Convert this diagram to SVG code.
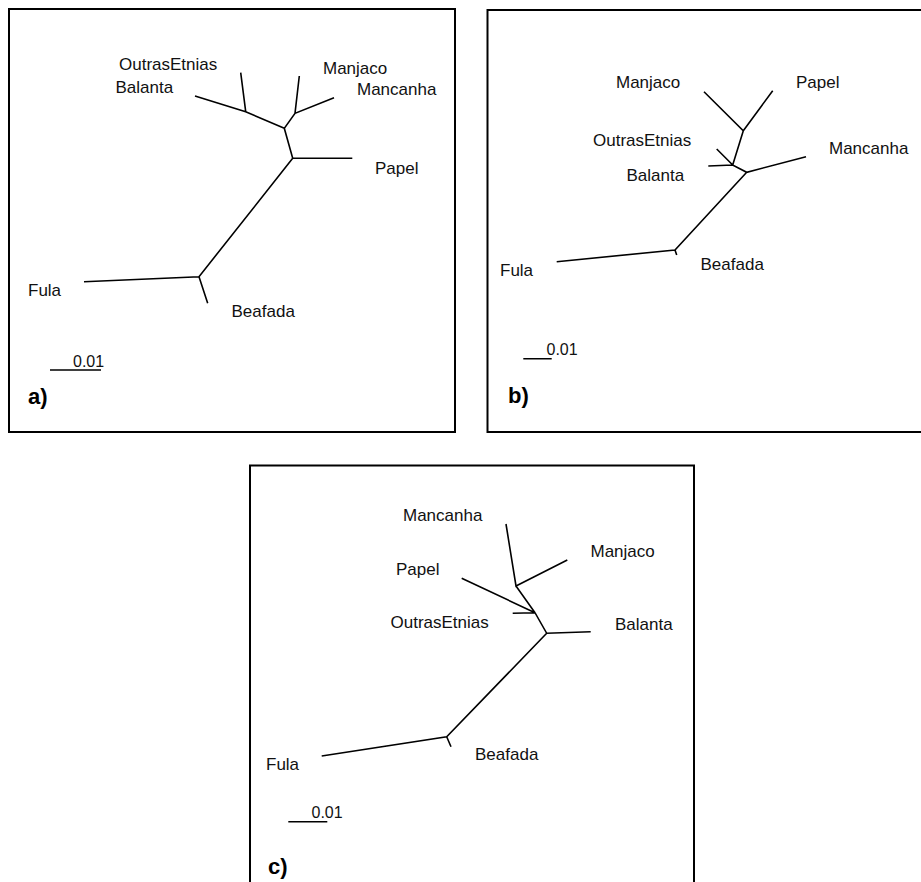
<svg xmlns="http://www.w3.org/2000/svg" width="921" height="882" viewBox="0 0 921 882">
<style>
.frame{fill:none;stroke:#000;stroke-width:2}
.br{fill:none;stroke:#000;stroke-width:1.6;stroke-linecap:butt;stroke-linejoin:miter}
.lb{font-family:"Liberation Sans",Arial,sans-serif;font-size:17px;fill:#111}
.sc{font-family:"Liberation Sans",Arial,sans-serif;font-size:16px;fill:#111}
.pl{font-family:"Liberation Sans",Arial,sans-serif;font-size:22px;font-weight:bold;fill:#000}
</style>
<rect width="921" height="882" fill="#fff"/>
<g id="frames">
<rect class="frame" x="9" y="9" width="446" height="423"/>
<path class="frame" d="M921,10 H487.5 V432 H921"/>
<path class="frame" d="M250,882 V465.5 H694 V882"/>
</g>
<g id="connectors">
<!-- panel a -->
<path class="br" d="M240.7,72.7 L245.7,111.7 M195,96 L245.7,111.7 L284.3,128.3 M299.3,76 L295,113.3 M334,97.7 L295,113.3 L284.3,128.3 L292.7,158.3 L352.3,158.3 M292.7,158.3 L199,276.7 L84,281.7 M199,276.7 L207.7,303.3"/>
<!-- panel b -->
<path class="br" d="M704,91.7 L743.3,130.7 L772.7,90.7 M743.3,130.7 L732.7,165 M716.7,149 L732.7,165 M708.3,166 L732.7,165 L746.7,172.3 L806,156.7 M746.7,172.3 L675,250 L556.7,261.7 M675,250 L676.7,255"/>
<!-- panel c -->
<path class="br" d="M506,524 L516,586 L567.3,560 M516,586 L535,612.7 M461.7,578.3 L535,612.7 M512.7,613.3 L535,612.7 L546.7,633.3 L590.7,631.7 M546.7,633.3 L446.7,736.7 L321.7,756 M446.7,736.7 L451,746.7"/>
<!-- scale bars -->
<path class="br" d="M50,370 H101 M523.3,358.8 H551.7 M288.3,821.7 H327.3"/>
</g>
<g id="panel-a">
<g id="a-outras"><text class="lb" x="119" y="70">OutrasEtnias</text></g>
<g id="a-balanta"><text class="lb" x="115.5" y="92.5">Balanta</text></g>
<g id="a-manjaco"><text class="lb" x="323" y="74">Manjaco</text></g>
<g id="a-mancanha"><text class="lb" x="357" y="95">Mancanha</text></g>
<g id="a-papel"><text class="lb" x="375" y="174">Papel</text></g>
<g id="a-fula"><text class="lb" x="28" y="296">Fula</text></g>
<g id="a-beafada"><text class="lb" x="231.5" y="316.5">Beafada</text></g>
<g id="a-scale"><text class="sc" x="73" y="366.5">0.01</text></g>
<g id="a-label"><text class="pl" x="28" y="404">a)</text></g>
</g>
<g id="panel-b">
<g id="b-manjaco"><text class="lb" x="616" y="87.5">Manjaco</text></g>
<g id="b-papel"><text class="lb" x="796" y="87.5">Papel</text></g>
<g id="b-outras"><text class="lb" x="593" y="146">OutrasEtnias</text></g>
<g id="b-mancanha"><text class="lb" x="829" y="153.5">Mancanha</text></g>
<g id="b-balanta"><text class="lb" x="626.5" y="180.5">Balanta</text></g>
<g id="b-fula"><text class="lb" x="500" y="276">Fula</text></g>
<g id="b-beafada"><text class="lb" x="700.5" y="269.5">Beafada</text></g>
<g id="b-scale"><text class="sc" x="546.5" y="355">0.01</text></g>
<g id="b-label"><text class="pl" x="508" y="403">b)</text></g>
</g>
<g id="panel-c">
<g id="c-mancanha"><text class="lb" x="403" y="521">Mancanha</text></g>
<g id="c-manjaco"><text class="lb" x="590.5" y="557">Manjaco</text></g>
<g id="c-papel"><text class="lb" x="396" y="575">Papel</text></g>
<g id="c-outras"><text class="lb" x="390.5" y="627.5">OutrasEtnias</text></g>
<g id="c-balanta"><text class="lb" x="615" y="629.5">Balanta</text></g>
<g id="c-fula"><text class="lb" x="266" y="769.5">Fula</text></g>
<g id="c-beafada"><text class="lb" x="475" y="760">Beafada</text></g>
<g id="c-scale"><text class="sc" x="311.5" y="818">0.01</text></g>
<g id="c-label"><text class="pl" x="268" y="874">c)</text></g>
</g>
</svg>
